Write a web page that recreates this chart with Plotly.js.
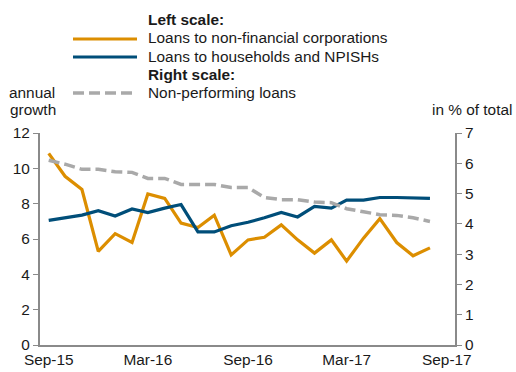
<!DOCTYPE html>
<html>
<head>
<meta charset="utf-8">
<script src="https://cdn.plot.ly/plotly-3.0.1.min.js"></script>
<style>html,body{margin:0;padding:0;background:#fff;}#chart{width:516px;height:372px;}</style>
</head>
<body>
<div id="chart"></div>
<script>
var months = ['2015-09-01','2015-10-01','2015-11-01','2015-12-01','2016-01-01','2016-02-01',
              '2016-03-01','2016-04-01','2016-05-01','2016-06-01','2016-07-01','2016-08-01',
              '2016-09-01','2016-10-01','2016-11-01','2016-12-01','2017-01-01','2017-02-01',
              '2017-03-01','2017-04-01','2017-05-01','2017-06-01','2017-07-01','2017-08-01'];
var loansNFC = [10.85, 9.55, 8.8, 5.3, 6.3, 5.8, 8.55, 8.3, 6.9, 6.65, 7.35, 5.1,
                5.95, 6.1, 6.8, 5.95, 5.2, 5.95, 4.75, 6.05, 7.15, 5.8, 5.05, 5.5];
var loansHH = [7.05, 7.2, 7.35, 7.6, 7.3, 7.7, 7.5, 7.75, 7.95, 6.4, 6.4, 6.75,
               6.95, 7.2, 7.5, 7.25, 7.85, 7.75, 8.2, 8.2, 8.35, 8.35, 8.32, 8.3];
var nplRatio = [6.1, 5.97, 5.8, 5.8, 5.72, 5.7, 5.5, 5.5, 5.3, 5.3, 5.3, 5.2,
                5.2, 4.87, 4.8, 4.8, 4.72, 4.7, 4.5, 4.4, 4.3, 4.28, 4.2, 4.08];
var tickDates = ['2015-09-01','2016-03-01','2016-09-01','2017-03-01','2017-09-01'];
var seriesNames = ['Loans to non-financial corporations','Loans to households and NPISHs','Non-performing loans'];

var cOrange = '#DC8E00', cBlue = '#004E79', cGray = '#A9A9A9';
var font = 'Liberation Sans, Arial, sans-serif';
var txt = '#1a1a1a';
var fs = 15.4;

var traces = [
  {x: months, y: loansNFC, type: 'scatter', mode: 'lines', name: seriesNames[0],
   line: {color: cOrange, width: 3.2}, yaxis: 'y'},
  {x: months, y: loansHH, type: 'scatter', mode: 'lines', name: seriesNames[1],
   line: {color: cBlue, width: 3.2}, yaxis: 'y'},
  {x: months, y: nplRatio, type: 'scatter', mode: 'lines', name: seriesNames[2],
   line: {color: cGray, width: 3.5, dash: '11px,5px'}, yaxis: 'y2'}
];

// pixel helpers for legend placement (plot area: x 40..455, y 133..345)
function px(x){ return (x - 40) / 415; }
function py(y){ return (345 - y) / 212; }

var layout = {
  width: 516, height: 372,
  margin: {l: 40, r: 61, t: 133, b: 27, pad: 0},
  paper_bgcolor: '#fff', plot_bgcolor: '#fff',
  showlegend: false,
  font: {family: font, size: 15, color: txt},
  xaxis: {
    type: 'date', range: ['2015-08-16', '2017-09-16'],
    tickvals: tickDates, tickformat: '%b-%y',
    showgrid: false, zeroline: false, showline: true, linecolor: '#8a8a8a', linewidth: 2,
    ticks: '', ticklabelstandoff: 0, tickfont: {size: fs, color: txt}
  },
  yaxis: {
    range: [0, 12], dtick: 2, showgrid: false, zeroline: false,
    showline: true, linecolor: '#8a8a8a', linewidth: 2,
    ticks: 'outside', ticklen: 5, tickcolor: '#8a8a8a', tickwidth: 1,
    tickfont: {size: fs, color: txt}
  },
  yaxis2: {
    range: [0, 7], dtick: 1, overlaying: 'y', side: 'right', showgrid: false, zeroline: false,
    showline: true, linecolor: '#8a8a8a', linewidth: 2,
    ticks: 'outside', ticklen: 5, tickcolor: '#8a8a8a', tickwidth: 1,
    tickfont: {size: fs, color: txt}
  },
  shapes: [
    {type: 'line', xref: 'paper', yref: 'paper', x0: px(73), x1: px(137), y0: py(39), y1: py(39),
     line: {color: cOrange, width: 3.2}},
    {type: 'line', xref: 'paper', yref: 'paper', x0: px(73), x1: px(137), y0: py(57), y1: py(57),
     line: {color: cBlue, width: 3.2}},
    {type: 'line', xref: 'paper', yref: 'paper', x0: px(73), x1: px(137), y0: py(93), y1: py(93),
     line: {color: cGray, width: 3.5, dash: '11px,5px'}}
  ],
  annotations: [
    {xref: 'paper', yref: 'paper', x: px(146), y: py(19), xanchor: 'left', yanchor: 'middle',
     text: '<b>Left scale:</b>', showarrow: false, font: {size: fs, color: txt}},
    {xref: 'paper', yref: 'paper', x: px(146), y: py(38), xanchor: 'left', yanchor: 'middle',
     text: seriesNames[0], showarrow: false, font: {size: fs, color: txt}},
    {xref: 'paper', yref: 'paper', x: px(146), y: py(56), xanchor: 'left', yanchor: 'middle',
     text: seriesNames[1], showarrow: false, font: {size: fs, color: txt}},
    {xref: 'paper', yref: 'paper', x: px(146), y: py(75), xanchor: 'left', yanchor: 'middle',
     text: '<b>Right scale:</b>', showarrow: false, font: {size: fs, color: txt}},
    {xref: 'paper', yref: 'paper', x: px(146), y: py(92), xanchor: 'left', yanchor: 'middle',
     text: seriesNames[2], showarrow: false, font: {size: fs, color: txt}},
    {xref: 'paper', yref: 'paper', x: px(32), y: py(92), xanchor: 'center', yanchor: 'middle',
     text: 'annual', showarrow: false, font: {size: fs, color: txt}},
    {xref: 'paper', yref: 'paper', x: px(33), y: py(109), xanchor: 'center', yanchor: 'middle',
     text: 'growth', showarrow: false, font: {size: fs, color: txt}},
    {xref: 'paper', yref: 'paper', x: px(514), y: py(109), xanchor: 'right', yanchor: 'middle',
     text: 'in % of total', showarrow: false, font: {size: fs, color: txt}}
  ]
};

Plotly.newPlot('chart', traces, layout, {displayModeBar: false, staticPlot: true});
</script>
</body>
</html>
